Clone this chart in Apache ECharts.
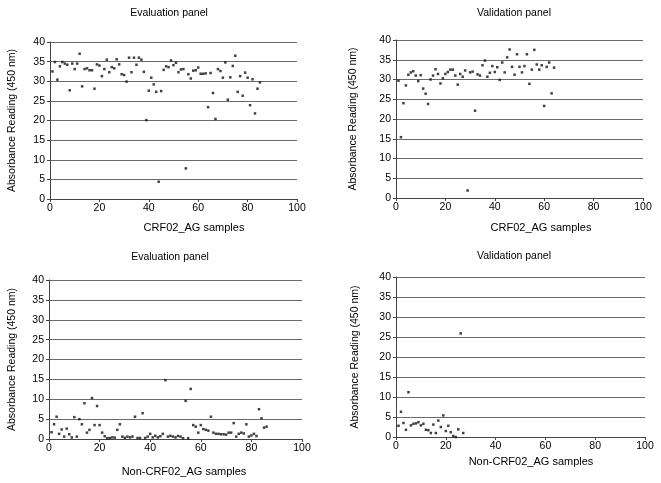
<!DOCTYPE html>
<html>
<head>
<meta charset="utf-8">
<script src="https://cdn.jsdelivr.net/npm/echarts@6/dist/echarts.min.js"></script>
<style>
  html, body { margin: 0; background: #fff; }
  #chart { width: 661px; height: 483px; }
</style>
</head>
<body>
<div id="chart"></div>
<script>
// readings per sample, sample number = position in the array (1-based)
const evalCrf02 = [
  32.5, 34.9, 30.4, 33.8, 34.9, 34.5, 34.2, 27.7, 34.5, 33.1,
  34.5, 37.0, 28.7, 33.1, 33.3, 32.8, 32.8, 28.1, 34.3, 34.0,
  31.3, 33.1, 35.5, 32.3, 33.6, 33.3, 35.6, 34.3, 31.8, 31.6,
  29.9, 36.0, 32.3, 36.0, 34.2, 36.0, 35.5, 32.4, 20.1, 27.6,
  30.9, 29.2, 27.3, 4.4, 27.5, 32.9, 33.8, 33.6, 35.3, 34.1,
  34.7, 32.3, 33.0, 33.1, 7.8, 31.8, 30.7, 32.7, 32.8, 33.5,
  31.9, 31.9, 32.0, 23.4, 32.1, 27.0, 20.4, 33.1, 32.6, 30.9,
  34.8, 25.3, 31.0, 33.9, 36.5, 27.3, 31.3, 26.3, 32.2, 30.9,
  23.9, 30.5, 21.8, 28.1, 29.7
];
const valCrf02 = [
  29.7, 15.4, 24.0, 28.5, 31.2, 31.8, 32.1, 31.0, 29.6, 31.1,
  27.7, 26.4, 23.8, 30.0, 31.0, 32.6, 31.4, 29.0, 30.3, 31.4,
  31.9, 32.5, 32.5, 31.0, 28.7, 31.4, 30.7, 32.3, 1.9, 31.8,
  32.0, 22.1, 31.3, 31.0, 33.6, 34.8, 30.7, 31.7, 33.4, 31.9,
  33.1, 29.9, 34.3, 31.8, 35.6, 37.6, 33.2, 31.2, 36.4, 33.2,
  31.8, 33.4, 36.4, 28.9, 32.5, 37.5, 33.8, 32.5, 33.6, 23.3,
  33.2, 34.3, 26.5, 33.0
];
const evalNonCrf02 = [
  1.7, 3.7, 5.6, 1.3, 2.4, 0.6, 2.6, 1.2, 0.4, 5.5,
  0.6, 5.0, 3.7, 9.0, 1.6, 2.3, 10.3, 3.5, 8.3, 3.5,
  1.6, 0.7, 0.2, 0.25, 0.4, 0.35, 2.3, 3.7, 0.6, 0.3,
  0.6, 0.4, 0.6, 5.6, 0.25, 0.25, 6.5, 0.25, 0.6, 1.3,
  0.4, 0.8, 0.4, 0.7, 1.3, 14.8, 0.6, 0.8, 0.6, 0.4,
  0.75, 0.6, 0.2, 9.6, 0.2, 12.6, 3.5, 3.1, 1.6, 3.5,
  2.5, 2.3, 2.1, 5.6, 1.6, 1.3, 1.3, 1.2, 1.2, 1.1,
  1.6, 1.6, 4.0, 0.6, 1.3, 1.6, 1.4, 3.7, 0.6, 0.9,
  1.3, 0.75, 7.5, 5.2, 2.85, 3.1
];
const valNonCrf02 = [
  2.8, 6.3, 3.5, 1.8, 11.2, 2.9, 3.3, 3.4, 3.7, 2.9,
  3.3, 1.8, 1.7, 1.0, 3.1, 1.0, 4.1, 2.5, 5.4, 1.5,
  2.8, 1.2, 0.25, 0.0, 1.9, 25.9, 1.0
];

const panelTitles = ["Evaluation panel", "Validation panel", "Evaluation panel", "Validation panel"];
const xNames = ["CRF02_AG samples", "CRF02_AG samples", "Non-CRF02_AG samples", "Non-CRF02_AG samples"];
const yName = "Absorbance Reading (450 nm)";
const panelData = [evalCrf02, valCrf02, evalNonCrf02, valNonCrf02];

// pixel layout of the four plots
const grids = [
  { left: 50, right: 364, top: 42, bottom: 284 },
  { left: 396, right: 18, top: 40, bottom: 285 },
  { left: 49, right: 359, top: 280, bottom: 44 },
  { left: 396, right: 16, top: 277, bottom: 46 },
];
const yNameGaps = [32, 37, 31, 35];
const titlePos = [[169, 13], [514, 13], [170, 257], [514, 256]];
const xNamePos = [[194, 228], [541, 228], [184, 472], [531, 462]];

const font = "Liberation Sans, Arial, sans-serif";

const chart = echarts.init(document.getElementById("chart"));

const xAxes = grids.map((g, i) => ({
  gridIndex: i,
  type: "value",
  min: 0,
  max: 100,
  interval: 20,
  axisLine: { show: true, lineStyle: { color: "#444", width: 1 } },
  axisTick: { show: true, length: 3, lineStyle: { color: "#444" } },
  axisLabel: { fontSize: 10.5, color: "#000", fontFamily: font, margin: 4 },
  splitLine: { show: false },
}));

const yAxes = grids.map((g, i) => ({
  gridIndex: i,
  type: "value",
  min: 0,
  max: 40,
  interval: 5,
  name: yName,
  nameLocation: "middle",
  nameGap: yNameGaps[i],
  nameTextStyle: { fontSize: 10.5, color: "#000", fontFamily: font },
  axisLine: { show: true, lineStyle: { color: "#444", width: 1 } },
  axisTick: { show: true, length: 3, lineStyle: { color: "#444" } },
  axisLabel: { fontSize: 10.5, color: "#000", fontFamily: font, margin: 5 },
  splitLine: { show: true, lineStyle: { color: "#6a6a6a", width: 1 } },
}));

const series = panelData.map((vals, i) => ({
  type: "scatter",
  xAxisIndex: i,
  yAxisIndex: i,
  symbol: "rect",
  symbolSize: 2.5,
  itemStyle: { color: "#111" },
  silent: true,
  data: vals.map((v, k) => [k + 1, v]),
}));

const texts = [];
panelTitles.forEach((t, i) => {
  texts.push({
    type: "text", x: titlePos[i][0], y: titlePos[i][1],
    style: { text: t, align: "center", verticalAlign: "middle", fill: "#000", font: "10.5px " + font },
  });
});
xNames.forEach((t, i) => {
  texts.push({
    type: "text", x: xNamePos[i][0], y: xNamePos[i][1],
    style: { text: t, align: "center", verticalAlign: "middle", fill: "#000", font: "11px " + font },
  });
});

chart.setOption({
  animation: false,
  grid: grids,
  xAxis: xAxes,
  yAxis: yAxes,
  series: series,
  graphic: texts,
});
</script>
</body>
</html>
